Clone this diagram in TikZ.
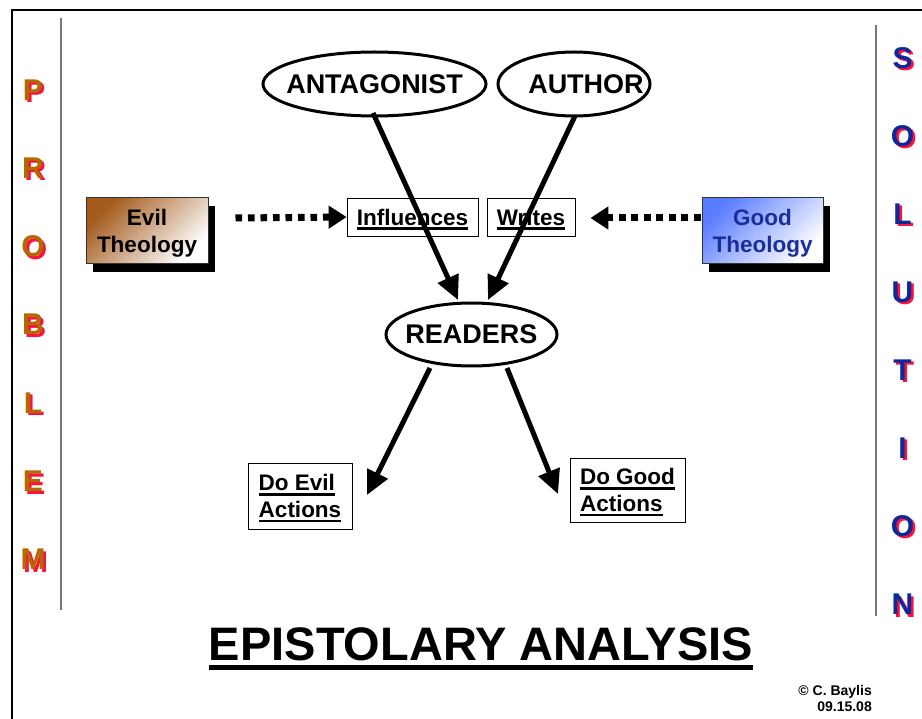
\documentclass[tikz,border=0pt]{standalone}
\usepackage{fontspec}
\setmainfont{Liberation Sans}
\usetikzlibrary{arrows.meta,shapes.geometric,shadows,calc}

\definecolor{probc}{HTML}{B06A00}
\definecolor{solc}{HTML}{0A2A99}
\definecolor{shadowred}{HTML}{FF1040}
\definecolor{evilbrown}{HTML}{A35A1C}
\definecolor{goodblue}{HTML}{5A7CFF}
\definecolor{goodtext}{HTML}{1A2E99}
\definecolor{rulegray}{HTML}{777777}

% word underlined with a rule scaled to the current font size
\newcommand\ulword[1]{\leavevmode\setbox0=\hbox{#1}\rlap{\smash{\vrule width\wd0 height -0.1em depth 0.21em}}\box0}
% letter with a red drop shadow behind it
\newcommand\shadowletter[2]{\rlap{\kern2.5pt\raisebox{-2.5pt}{\color{shadowred}#2}}{\color{#1}#2}}

\tikzset{
  bigoval/.style={ellipse, draw, line width=3pt, inner sep=0pt,
    font=\fontsize{27}{32}\selectfont\bfseries},
  labelbox/.style={draw, line width=0.8pt, fill=white, inner sep=0pt, align=left,
    text depth=0pt, font=\fontsize{22.5}{26.5}\selectfont\bfseries},
  theobox/.style={draw=black!80, line width=1pt, inner sep=0pt, align=center,
    minimum width=122pt, minimum height=66pt, text depth=0pt,
    font=\fontsize{22.5}{27}\selectfont\bfseries,
    drop shadow={shadow xshift=7pt, shadow yshift=-8pt, fill=black, opacity=1}},
  bigarrow/.style={line width=5pt, -{Triangle[length=24pt,width=22pt]}},
  dotarrow/.style={line width=7pt, dash pattern=on 6.7pt off 5.8pt,
    -{Triangle[length=18pt,width=22pt]}},
  spine/.style={rulegray, line width=2pt},
  sideletter/.style={inner sep=0pt, font=\fontsize{30}{33}\selectfont\bfseries},
}

\begin{document}
\begin{tikzpicture}[x=1pt, y=-1pt]
\useasboundingbox (0,0) rectangle (922,719);

% page frame and side rules
\draw[line width=2pt] (12,719) -- (12,10) -- (922,10);
\draw[spine] (61,18) -- (61,610);
\draw[spine] (876,25) -- (876,616);

% PROBLEM / SOLUTION side lettering
\foreach \ch [count=\i] in {P,R,O,B,L,E,M} {
  \node[sideletter] (prob\i) at (33, {91+78.3*(\i-1)}) {\shadowletter{probc}{\ch}};
}
\foreach \ch [count=\i] in {S,O,L,U,T,I,O,N} {
  \node[sideletter] (sol\i) at (902.5, {59+78.07*(\i-1)}) {\shadowletter{solc}{\ch}};
}

% characters
\node[bigoval, minimum width=223pt, minimum height=64pt] (ant) at (374.5,84) {\makebox[0pt]{ANTAGONIST}};
\node[bigoval, minimum width=152pt, minimum height=64pt] (auth) at (574,84) {\makebox[0pt]{\kern24pt AUTHOR}};
\node[bigoval, minimum width=171pt, minimum height=63pt] (read) at (471.5,334.5) {\makebox[0pt]{READERS}};

% theology sources
\node[theobox, top color=evilbrown, bottom color=white, shading angle=45] (evil) at (147,231) {Evil\\Theology};
\node[theobox, top color=goodblue, bottom color=white, shading angle=45, text=goodtext,
  minimum width=121pt] (good) at (762.5,231) {Good\\Theology};

% verbs
\node[labelbox, minimum width=131pt, minimum height=38pt] (infl) at (412.5,217) {\ulword{Influences}};
\node[labelbox, minimum width=88pt, minimum height=38pt] (writes) at (531,217) {\ulword{Writes}};

% outcomes
\node[labelbox, minimum width=104pt, minimum height=66pt] (doevil) at (300,496) {\ulword{Do Evil}\\\ulword{Actions}};
\node[labelbox, minimum width=115pt, minimum height=64pt] (dogood) at (627.5,490) {\ulword{Do Good}\\\ulword{Actions}};

% dotted influence arrows
\draw[dotarrow] ($(evil.east)+(27,-13)$) -- (infl.west);
\draw[dotarrow] ($(good.west)+(-1,-13)$) -- ($(writes.east)+(15,1)$);

% main arrows
\draw[bigarrow] ($(ant.center)+(-1.5,29)$) -- ($(read.center)+(-13.5,-34.5)$);
\draw[bigarrow] ($(auth.center)+(1,32)$) -- ($(read.center)+(16.5,-34.5)$);
\draw[bigarrow] ($(read.center)+(-41.5,33.5)$) -- ($(doevil.center)+(67,-1)$);
\draw[bigarrow] ($(read.center)+(35.5,33.5)$) -- ($(dogood.center)+(-69.5,4)$);

% title and credit
\node[anchor=base, inner sep=0pt, font=\fontsize{47}{50}\selectfont\bfseries] (title) at (481,660) {\ulword{EPISTOLARY ANALYSIS}};
\node[anchor=base east, inner sep=0pt, align=right, font=\fontsize{14}{15.5}\selectfont\bfseries] (credit) at (872,711) {\textcopyright{} C. Baylis\\09.15.08};
\end{tikzpicture}
\end{document}
